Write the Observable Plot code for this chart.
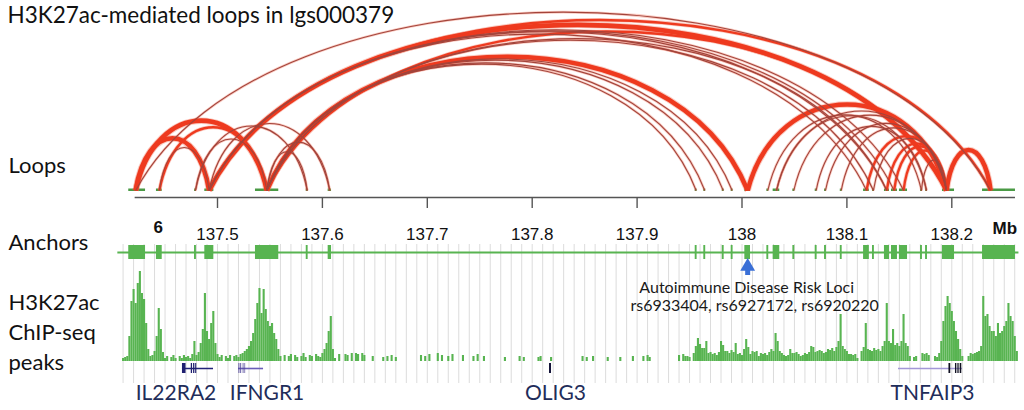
<!DOCTYPE html>
<html>
<head>
<meta charset="utf-8">
<script src="https://cdn.jsdelivr.net/npm/d3@7"></script>
<script src="https://cdn.jsdelivr.net/npm/@observablehq/plot@0.6"></script>
<style>
  html, body { margin: 0; padding: 0; background: #fff; }
  #chart svg { display: block; }
</style>
</head>
<body>
<div id="chart"></div>
<script>
// ---------------- data (Mb on chr6) ----------------
const title = "H3K27ac-mediated loops in lgs000379";
const trackLabels = ["Loops", "Anchors", "H3K27ac", "ChIP-seq", "peaks"];
const chromosome = "6";
const unit = "Mb";
const tickValues = [137.5, 137.6, 137.7, 137.8, 137.9, 138.0, 138.1, 138.2];
const tickLabels = ["137.5", "137.6", "137.7", "137.8", "137.9", "138", "138.1", "138.2"];

// anchor intervals [start, end]
const anchors = [
  [137.4154, 137.4314], [137.4418, 137.4473], [137.4781, 137.4799], [137.4879, 137.4965],
  [137.5362, 137.5584], [137.5846, 137.5864], [137.6055, 137.6087],
  [137.9554, 137.9572], [137.9636, 137.9654], [137.9812, 137.9830], [137.9897, 137.9915],
  [138.0027, 138.0081], [138.0237, 138.0255], [138.0297, 138.0360], [138.0485, 138.0503],
  [138.0698, 138.0716], [138.0787, 138.0805], [138.0937, 138.0955], [138.1159, 138.1214],
  [138.1244, 138.1262], [138.1358, 138.1406], [138.1425, 138.1482], [138.1501, 138.1578],
  [138.1702, 138.1720], [138.1750, 138.1768], [138.1911, 138.2026], [138.2293, 138.2607]
];

// loops [anchor1 Mb, anchor2 Mb, strength 1..3]
const loops = [
  [137.422, 137.492, 3], [137.422, 137.547, 3], [137.422, 138.237, 1],
  [137.4446, 137.547, 2], [137.4446, 137.492, 1],
  [137.479, 137.5855, 1], [137.479, 137.547, 1], [137.492, 137.607, 1],
  [137.547, 137.5855, 1], [137.547, 137.607, 1],
  [137.492, 138.195, 3], [137.4925, 138.196, 2], [137.492, 138.237, 2],
  [137.492, 138.1187, 1], [137.492, 138.138, 1], [137.492, 138.145, 1], [137.492, 138.154, 1],
  [137.547, 138.0054, 3], [137.547, 137.9563, 1], [137.547, 137.9645, 1],
  [137.547, 137.9821, 1], [137.547, 137.9906, 1], [137.5475, 138.0050, 2],
  [137.547, 138.195, 2], [137.547, 138.1253, 1], [137.547, 138.138, 1],
  [138.0054, 138.195, 3], [138.0246, 138.1711, 1], [138.0329, 138.1759, 1],
  [138.0329, 138.195, 1], [138.0494, 138.195, 1], [138.0707, 138.1759, 1],
  [138.0796, 138.195, 1], [138.0946, 138.195, 1], [138.1187, 138.195, 2],
  [138.1253, 138.195, 1], [138.138, 138.195, 2], [138.145, 138.195, 2],
  [138.154, 138.195, 2], [138.1711, 138.195, 1], [138.195, 138.237, 3]
];

// H3K27ac ChIP-seq signal in 2-kb bins starting at 137.410 Mb
const peakStart = 137.410;
const peakStep = 0.002;
const peakSignal = [
  3,4,5,25,60,72,58,78,90,68,62,38,12,5,6,10,25,53,32,9,
  3,5,0,4,6,3,0,5,3,6,4,5,3,7,20,6,9,18,32,68,
  30,22,38,50,18,7,4,6,0,5,3,6,0,5,6,4,7,8,10,12,
  15,20,28,42,58,73,48,72,52,40,35,38,28,22,12,5,0,6,0,5,
  7,0,6,4,0,5,8,4,0,6,5,0,7,5,4,8,12,18,30,45,
  12,3,0,7,0,0,7,6,0,8,0,8,7,0,8,6,0,0,0,5,
  0,0,0,0,4,0,5,0,6,0,4,0,0,0,0,0,0,0,0,0,
  0,0,6,0,5,0,7,0,0,0,8,0,6,0,0,5,0,7,0,0,
  0,0,6,0,0,0,0,5,0,7,0,0,5,0,0,0,0,0,0,0,
  0,0,4,0,0,0,0,0,0,5,0,4,0,0,0,0,0,0,4,5,
  0,0,0,0,4,0,0,0,0,0,0,0,0,0,0,0,0,0,0,5,
  0,4,0,0,5,0,0,0,0,0,0,4,0,0,0,0,0,4,0,0,
  0,0,0,5,0,0,0,0,5,0,6,4,0,0,0,0,0,0,0,0,
  0,0,0,0,0,6,0,7,5,5,4,0,8,15,23,17,13,13,20,8,
  9,7,8,6,9,20,16,10,10,8,11,9,18,7,8,6,12,22,14,7,
  10,9,10,5,8,7,8,6,9,12,10,28,20,10,8,6,5,6,12,8,
  8,9,7,5,6,8,7,9,15,14,9,10,11,10,8,9,12,11,13,10,
  14,20,47,15,12,10,7,7,6,7,3,0,10,14,38,12,11,10,13,11,
  12,10,15,20,58,20,18,32,16,18,15,20,47,18,15,5,0,4,5,0,
  0,8,7,8,6,0,0,5,4,8,20,40,55,65,58,50,40,30,22,12,
  5,0,0,5,8,7,8,9,10,15,65,45,47,35,30,30,25,38,28,30,
  35,40,58,45,40,25,10
];

// genes
const genes = [
  {name: "IL22RA2", start: 137.4666, end: 137.4962},
  {name: "IFNGR1",  start: 137.5200, end: 137.5439},
  {name: "OLIG3",   start: 137.8165, end: 137.8184},
  {name: "TNFAIP3", start: 138.1492, end: 138.2102}
];
const geneExons = [
  {gene: "IL22RA2", start: 137.4666, end: 137.4700},
  {gene: "IL22RA2", start: 137.4750, end: 137.4762},
  {gene: "IL22RA2", start: 137.4772, end: 137.4784},
  {gene: "IL22RA2", start: 137.4792, end: 137.4802},
  {gene: "IFNGR1",  start: 137.5205, end: 137.5213},
  {gene: "IFNGR1",  start: 137.5222, end: 137.5230},
  {gene: "IFNGR1",  start: 137.5245, end: 137.5252},
  {gene: "IFNGR1",  start: 137.5262, end: 137.5268},
  {gene: "OLIG3",   start: 137.8165, end: 137.8184},
  {gene: "TNFAIP3", start: 138.1973, end: 138.1990},
  {gene: "TNFAIP3", start: 138.2035, end: 138.2048},
  {gene: "TNFAIP3", start: 138.2058, end: 138.2070},
  {gene: "TNFAIP3", start: 138.2080, end: 138.2095}
];

const riskLocus = 138.0054;
const riskText = ["Autoimmune Disease Risk Loci", "rs6933404, rs6927172, rs6920220"];

// ---------------- styling / layout ----------------
const GREEN = "#58b451";
const RED = "#ee3a1f";
const BROWN = "#a3443b";
const FONT = "Lato, 'Open Sans', sans-serif";
const AXFONT = "'Liberation Sans', Arial, sans-serif";
const geneColor = {IL22RA2: "#22237a", IFNGR1: "#6a5db8", OLIG3: "#1c1c4a", TNFAIP3: "#a397d8"};
const exonColor = {IL22RA2: "#1f1f70", IFNGR1: "#4a3f96", OLIG3: "#15153a", TNFAIP3: "#111122"};
const labelDx = [-22, 16, 5, 2];

// custom arc curve: arch height grows with sqrt of span in pixels
function arcCurve(context) {
  let pts = [];
  return {
    areaStart() {}, areaEnd() {},
    lineStart() { pts = []; },
    point(x, y) { pts.push([+x, +y]); },
    lineEnd() {
      if (pts.length < 2) return;
      const [[x0, y0], [x1, y1]] = pts;
      const w = x1 - x0;
      const h = 6.1 * Math.sqrt(Math.abs(w));
      const c = (4 / 3) * h;
      context.moveTo(x0, y0);
      context.bezierCurveTo(x0 + 0.15 * w, y0 - c, x1 - 0.15 * w, y1 - c, x1, y1);
    }
  };
}

const gridValues = d3.range(13741, 13827).map(d => d / 100);
const loopsSorted = loops.slice().sort((a, b) => b[2] - a[2]);
const LOOP_BASE = 190;
const PEAK_BASE = 361;
const GENE_Y = 368;

const chart = Plot.plot({
  width: 1024,
  height: 410,
  margin: 0,
  x: {domain: [137.293136, 138.269304], range: [0, 1024], axis: null},
  y: {domain: [0, 410], range: [0, 410], axis: null},
  style: {background: "#fff", fontFamily: FONT},
  marks: [
    // background grid for lower tracks
    Plot.ruleX(gridValues, {x: d => d, y1: 244, y2: 383, stroke: "#dcdcdc", strokeWidth: 1}),

    // anchor feet on loop baseline
    Plot.rect(anchors, {x1: d => d[0], x2: d => d[1], y1: LOOP_BASE - 1.5, y2: LOOP_BASE + 1, fill: "#4a9a45"}),

    // loops: soft halo then line
    Plot.link(loopsSorted, {
      x1: d => d[0], x2: d => d[1], y1: LOOP_BASE, y2: LOOP_BASE, curve: arcCurve,
      stroke: "#f26a4f", strokeOpacity: 0.35,
      strokeWidth: d => d[2] === 3 ? 6.5 : d[2] === 2 ? 4 : 2.6
    }),
    Plot.link(loopsSorted, {
      x1: d => d[0], x2: d => d[1], y1: LOOP_BASE, y2: LOOP_BASE, curve: arcCurve,
      stroke: d => d[2] === 1 ? BROWN : RED,
      strokeWidth: d => d[2] === 3 ? 4.6 : d[2] === 2 ? 2.4 : 1.1
    }),

    // genomic axis
    Plot.ruleY([197], {x1: 137.4215, x2: 138.2607, stroke: "#555", strokeWidth: 1.6}),
    Plot.ruleX(tickValues, {x: d => d, y1: 197, y2: 208, stroke: "#555", strokeWidth: 1.4}),
    Plot.text(tickValues, {x: d => d, y: 234, text: (d, i) => tickLabels[i], fontFamily: AXFONT, fontSize: 17, fill: "#111"}),
    Plot.text([chromosome], {frameAnchor: "top-left", dx: 153, dy: 220, text: d => d, fontFamily: AXFONT, fontSize: 17, fontWeight: "bold", fill: "#111"}),
    Plot.text([unit], {frameAnchor: "top-left", dx: 992, dy: 221, text: d => d, fontFamily: AXFONT, fontSize: 17, fontWeight: "bold", fill: "#111"}),

    // anchors track
    Plot.ruleY([252], {x1: 137.405, x2: 138.264, stroke: GREEN, strokeWidth: 2}),
    Plot.rect(anchors, {x1: d => d[0], x2: d => d[1], y1: 245, y2: 259, fill: GREEN}),

    // risk loci arrow + text
    Plot.ruleX([riskLocus], {x: d => d, y1: 268, y2: 275, stroke: "#3a6fd6", strokeWidth: 5}),
    Plot.dot([riskLocus], {x: d => d, y: 266, symbol: "triangle", r: 5.5, fill: "#3a6fd6", stroke: "none"}),
    Plot.text([riskText[0]], {x: riskLocus, y: 287, dx: -1, text: d => d, fontSize: 16, fill: "#1a1a1a"}),
    Plot.text([riskText[1]], {x: riskLocus, y: 305, dx: 7, text: d => d, fontSize: 16, fill: "#1a1a1a"}),

    // ChIP-seq signal
    Plot.ruleX(peakSignal.map((v, i) => ({pos: peakStart + i * peakStep, v})).filter(d => d.v > 0), {
      x: "pos", y1: PEAK_BASE, y2: d => PEAK_BASE - d.v, stroke: GREEN, strokeWidth: 2.1
    }),

    // genes
    Plot.ruleY(genes, {x1: "start", x2: "end", y: GENE_Y, stroke: d => geneColor[d.name], strokeWidth: 1.6}),
    Plot.rect(geneExons, {x1: "start", x2: "end", y1: GENE_Y - 5, y2: GENE_Y + 5, fill: d => exonColor[d.gene], inset: 0}),
    ...genes.map((g, i) => Plot.text([g], {
      x: d => (d.start + d.end) / 2, y: 393, dx: labelDx[i], text: "name",
      fontSize: 21, fill: "#1f2d5a"
    })),

    // titles / track labels
    Plot.text([title], {frameAnchor: "top-left", dx: 7, dy: 15, text: d => d, textAnchor: "start", lineAnchor: "middle", fontSize: 22.5, fill: "#111"}),
    Plot.text([trackLabels[0]], {frameAnchor: "top-left", dx: 8, dy: 165, text: d => d, textAnchor: "start", lineAnchor: "middle", fontSize: 22, fill: "#111"}),
    Plot.text([trackLabels[1]], {frameAnchor: "top-left", dx: 8, dy: 242, text: d => d, textAnchor: "start", lineAnchor: "middle", fontSize: 22, fill: "#111"}),
    Plot.text([trackLabels[2]], {frameAnchor: "top-left", dx: 8, dy: 302, text: d => d, textAnchor: "start", lineAnchor: "middle", fontSize: 22, fill: "#111"}),
    Plot.text([trackLabels[3]], {frameAnchor: "top-left", dx: 8, dy: 332, text: d => d, textAnchor: "start", lineAnchor: "middle", fontSize: 22, fill: "#111"}),
    Plot.text([trackLabels[4]], {frameAnchor: "top-left", dx: 8, dy: 362, text: d => d, textAnchor: "start", lineAnchor: "middle", fontSize: 22, fill: "#111"})
  ]
});
document.getElementById("chart").appendChild(chart);
</script>
</body>
</html>
